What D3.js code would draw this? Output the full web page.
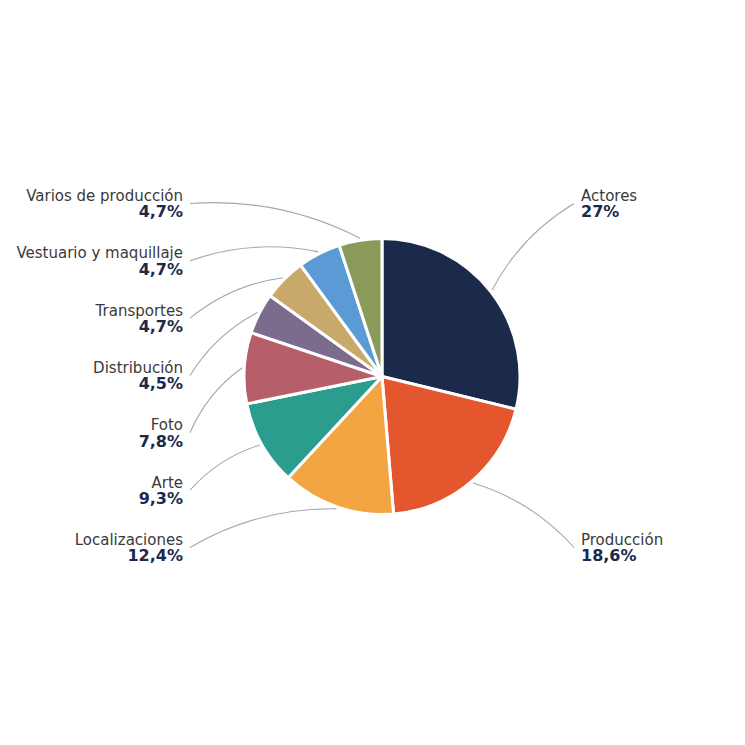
<!DOCTYPE html>
<html>
<head>
<meta charset="utf-8">
<script src="https://cdn.jsdelivr.net/npm/d3@7"></script>
<style>
  body { margin: 0; background: #fff; }
  text { font-family: "DejaVu Sans", sans-serif; }
</style>
</head>
<body>
<svg id="chart" width="745" height="745"></svg>
<script>
const categories = ["Actores", "Producción", "Localizaciones", "Arte", "Foto",
    "Distribución", "Transportes", "Vestuario y maquillaje", "Varios de producción"];
const shares = [27, 18.6, 12.4, 9.3, 7.8, 4.5, 4.7, 4.7, 4.7];
const colors = ["#1b2a4a", "#e4572e", "#f3a541", "#2a9d8f", "#b65e69",
    "#7b6b8d", "#c9a96b", "#5b9bd5", "#8a9a5b"];

const svg = d3.select("#chart");
const cx = 382, cy = 376.5, radius = 138;

const data = categories.map((name, i) => ({name, value: shares[i], color: colors[i]}));

const pie = d3.pie().sort(null).value(d => d.value);
const arcs = pie(data);
const arc = d3.arc().innerRadius(0).outerRadius(radius);

const g = svg.append("g").attr("transform", `translate(${cx},${cy})`);

g.selectAll("path")
    .data(arcs)
    .join("path")
    .attr("d", arc)
    .attr("fill", d => d.data.color)
    .attr("stroke", "#fff")
    .attr("stroke-width", 3)
    .attr("stroke-linejoin", "round");

// label rows: right side for slices on the right half, left side otherwise
const midAngle = d => (d.startAngle + d.endAngle) / 2;
const right = arcs.filter(d => midAngle(d) < Math.PI);
const left = arcs.filter(d => midAngle(d) >= Math.PI).reverse();

const rowY = d3.scalePoint().range([201, 545]);
const yLeft = rowY.copy().domain(left.map(d => d.data.name));
const yRight = rowY.copy().domain(right.map(d => d.data.name));

const labels = [
    ...left.map(d => ({d, side: "left", x: 183, y: yLeft(d.data.name)})),
    ...right.map(d => ({d, side: "right", x: 581, y: yRight(d.data.name)}))
];

const fmt = v => String(v).replace(".", ",") + "%";

// connectors: gentle arch from the label to the slice edge
const linkPath = l => {
    const a = midAngle(l.d);
    const px = cx + 140 * Math.sin(a), py = cy - 140 * Math.cos(a);
    const lx = l.side === "left" ? l.x + 7 : l.x - 7;
    const ly = l.y + 2.5;
    const dx = px - lx, dy = py - ly;
    const len = Math.hypot(dx, dy);
    let nx = -dy / len, ny = dx / len;
    if (ny > 0) { nx = -nx; ny = -ny; }
    const h = 0.14 * len;
    const qx = (px + lx) / 2 + nx * h, qy = (py + ly) / 2 + ny * h;
    const p = d3.path();
    p.moveTo(lx, ly);
    p.quadraticCurveTo(qx, qy, px, py);
    return p.toString();
};

svg.append("g")
    .selectAll("path")
    .data(labels)
    .join("path")
    .attr("d", linkPath)
    .attr("fill", "none")
    .attr("stroke", "#a8a8a8")
    .attr("stroke-width", 1.1);

const lab = svg.append("g")
    .selectAll("g")
    .data(labels)
    .join("g")
    .attr("text-anchor", l => l.side === "left" ? "end" : "start");

lab.append("text")
    .attr("x", l => l.x)
    .attr("y", l => l.y)
    .attr("fill", "#3a3a3a")
    .attr("font-size", 15)
    .text(l => l.d.data.name);

lab.append("text")
    .attr("x", l => l.x)
    .attr("y", l => l.y + 16.3)
    .attr("fill", "#1b2a4a")
    .attr("font-size", 16)
    .attr("font-weight", "bold")
    .text(l => fmt(l.d.data.value));
</script>
</body>
</html>
